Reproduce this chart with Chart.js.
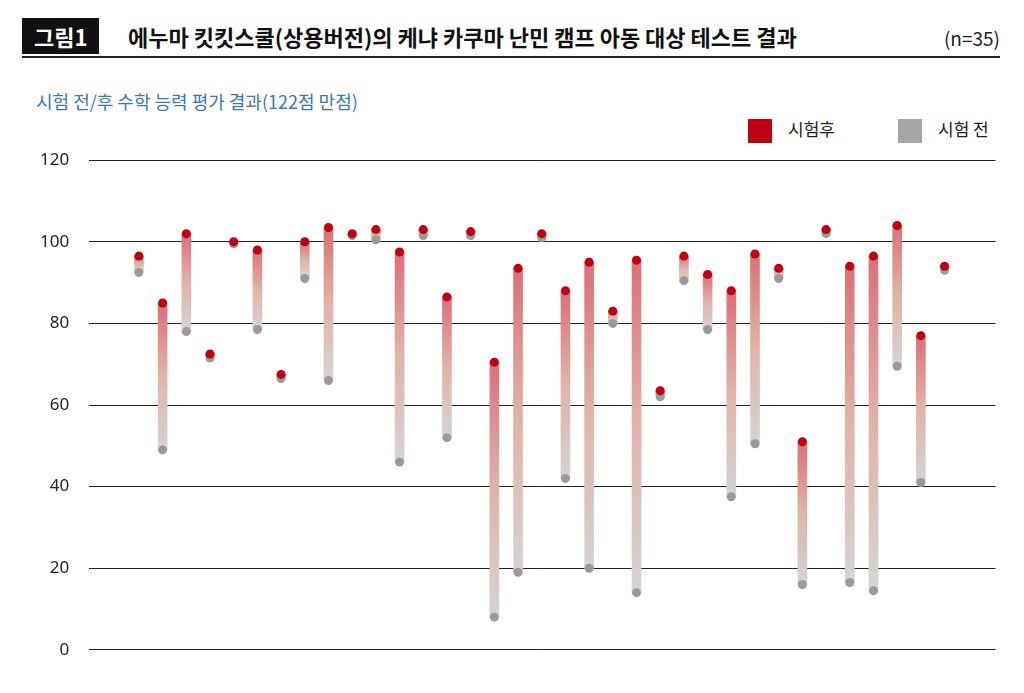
<!DOCTYPE html>
<html><head><meta charset="utf-8">
<script src="https://cdn.jsdelivr.net/npm/chart.js@4"></script>
<style>
body{margin:0;width:1024px;height:693px;background:#fff;font-family:"Noto Sans CJK KR","Noto Sans",sans-serif;position:relative;overflow:hidden}
#head{position:absolute;left:22px;top:14px;width:978px;height:42px;border-bottom:2px solid #222}
#tag{position:absolute;left:0;top:4px;background:#111;color:#fff;font-weight:bold;font-size:22px;padding:0 12px;height:36px;line-height:36px}
#title{position:absolute;left:106px;top:4px;font-weight:bold;font-size:22px;line-height:36px;color:#111}
#n{position:absolute;right:0;top:6px;font-size:19px;line-height:36px;color:#222}
#sub{position:absolute;left:36px;top:88px;font-size:18px;color:#3b78b5}
.lg{position:absolute;top:116px;font-size:17px;color:#222}
.lg i{display:inline-block;width:24px;height:24px;vertical-align:middle;margin-right:16px}
#wrap{position:absolute;left:20px;top:130px;width:980px;height:550px}
</style></head><body>
<div id="head"><div id="tag">그림1</div><div id="title">에누마 킷킷스쿨(상용버전)의 케냐 카쿠마 난민 캠프 아동 대상 테스트 결과</div><div id="n">(n=35)</div></div>
<div id="sub">시험 전/후 수학 능력 평가 결과(122점 만점)</div>
<div class="lg" style="left:748px"><i style="background:#c00010"></i>시험후</div>
<div class="lg" style="left:898px"><i style="background:#a6a6a6"></i>시험 전</div>
<div id="wrap"><canvas id="c"></canvas></div>
<script>
// 학생별 점수 (시험 전 / 시험 후)
var students = [];
for (var i = 1; i <= 35; i++) students.push(i);
var before = [92.5,49,78,71.5,99.5,78.5,66.5,91,66,101.5,100.5,46,101.5,52,101.5,8,19,101,42,20,80,14,62,90.5,78.5,37.5,50.5,91,16,102,16.5,14.5,69.5,41,93];
var after = [96.5,85,102,72.5,100,98,67.5,100,103.5,102,103,97.5,103,86.5,102.5,70.5,93.5,102,88,95,83,95.5,63.5,96.5,92,88,97,93.5,51,103,94,96.5,104,77,94];
var yTicks = [0,20,40,60,80,100,120];

function barGrad(ctx){
  var chart = ctx.chart, y = chart.scales.y;
  if (!y || !chart.chartArea || ctx.dataIndex === undefined) return '#ddd';
  var top = y.getPixelForValue(after[ctx.dataIndex]);
  var bot = y.getPixelForValue(before[ctx.dataIndex]);
  if (!isFinite(top) || !isFinite(bot) || top === bot) return '#e0a0a0';
  var g = chart.ctx.createLinearGradient(0, top, 0, bot);
  g.addColorStop(0, '#dc6f78');
  g.addColorStop(0.5, '#e2b3a8');
  g.addColorStop(1, '#d4d4d4');
  return g;
}

new Chart(document.getElementById('c'), {
  type: 'bar',
  data: {
    datasets: [
      {type:'scatter', data: students.map(function(s,i){return {x:s,y:after[i]};}), backgroundColor:'#c00010', pointRadius:4.5, borderWidth:0, order:0},
      {type:'scatter', data: students.map(function(s,i){return {x:s,y:before[i]};}), backgroundColor:'#9a9a9a', pointRadius:4.5, borderWidth:0, order:1},
      {type:'bar', data: students.map(function(s,i){return {x:s,y:[before[i],after[i]]};}), backgroundColor: barGrad, barThickness:9, borderSkipped:false, order:2}
    ]
  },
  options: {
    responsive:true, maintainAspectRatio:false, animation:false,
    layout:{padding:{top:8,bottom:8,right:0}},
    plugins:{legend:{display:false},tooltip:{enabled:false}},
    scales:{
      x:{type:'linear', min:-1.1, max:37.15, offset:false, display:false},
      y:{min:0, max:120, afterBuildTicks:function(a){a.ticks=yTicks.map(function(v){return {value:v};});},
        border:{display:false},
        grid:{color:'#222', lineWidth:1, drawTicks:false},
        ticks:{color:'#222', padding:20, font:{family:'"Noto Sans", sans-serif', size:17}}}
    }
  }
});
</script>
</body></html>
